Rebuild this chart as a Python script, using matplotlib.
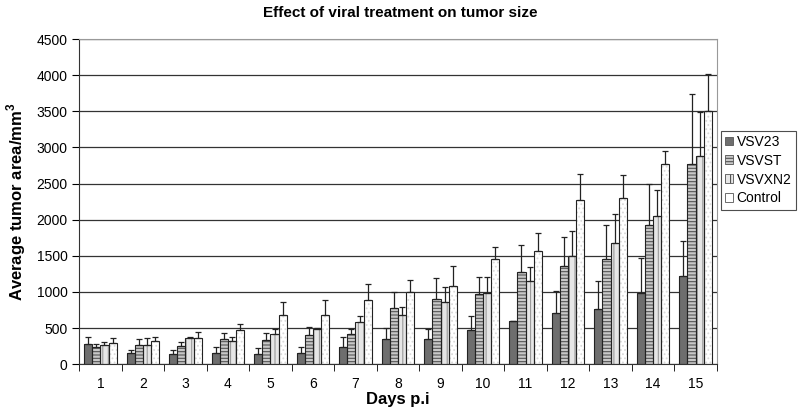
import numpy as np
import matplotlib.pyplot as plt
from matplotlib.patches import Patch

plt.rcParams['font.family'] = ['Liberation Sans', 'DejaVu Sans']
plt.rcParams['hatch.linewidth'] = 0.8

# tumor area (mean) and upper error per group, days 1..15
days = [str(d) for d in range(1, 16)]
groups = ['VSV23', 'VSVST', 'VSVXN2', 'Control']

vsv23 = [281, 152, 138, 152, 140, 152, 240, 350, 350, 476, 600, 701, 762, 991, 1225]
vsvst = [244, 267, 258, 346, 332, 410, 415, 784, 900, 977, 1281, 1359, 1460, 1925, 2777]
vsvxn2 = [263, 267, 360, 323, 424, 489, 581, 687, 867, 991, 1152, 1497, 1672, 2045, 2877]
control = [291, 318, 360, 471, 678, 687, 886, 997, 1080, 1456, 1566, 2266, 2293, 2767, 3498]

vsv23_top = [374, 202, 189, 235, 221, 235, 369, 507, 485, 665, 600, 1010, 1148, 1474, 1704]
vsvst_top = [285, 350, 305, 429, 429, 512, 493, 1001, 1195, 1208, 1649, 1755, 1921, 2491, 3737]
vsvxn2_top = [313, 360, 382, 382, 493, 500, 665, 789, 1061, 1208, 1341, 1842, 2073, 2408, 3484]
control_top = [360, 382, 443, 562, 862, 886, 1103, 1158, 1361, 1621, 1819, 2638, 2620, 2946, 4018]

means = [vsv23, vsvst, vsvxn2, control]
tops = [vsv23_top, vsvst_top, vsvxn2_top, control_top]

faces = ['#6e6e6e', '#c8c8c8', '#e6e6e6', '#ffffff']
hatches = ['', '-----', '|||', '....']
hatch_cols = ['#6e6e6e', '#555555', '#9a9a9a', '#dadada']

fig = plt.figure(figsize=(8, 4.2), dpi=100)
ax = fig.add_axes([0.099, 0.133, 0.797, 0.774])

x = np.arange(len(days))
w = 0.19
for i in range(4):
    pos = x + (i - 1.5) * w
    m = np.array(means[i])
    err = np.array(tops[i]) - m
    # fill with hatch, then dark outline on top
    ax.bar(pos, m, w, color=faces[i], hatch=hatches[i], edgecolor=hatch_cols[i],
           linewidth=0, zorder=2)
    ax.bar(pos, m, w, facecolor='none', edgecolor='#222222', linewidth=0.8, zorder=3)
    ax.errorbar(pos, m, yerr=[np.zeros_like(err), err], fmt='none', ecolor='#222222',
                elinewidth=0.9, capsize=2.5, capthick=0.9, zorder=4)

ax.set_xlim(-0.5, len(days) - 0.5)
ax.set_ylim(0, 4500)
ax.set_yticks(np.arange(0, 4501, 500))
ax.yaxis.grid(True, color='#333333', linewidth=0.9)
ax.set_axisbelow(True)

ax.set_xticks(x)
ax.set_xticklabels(days)
ax.set_xticks(np.arange(-0.5, len(days)), minor=True)
ax.tick_params(axis='x', which='major', length=0, pad=9, labelsize=10)
ax.tick_params(axis='x', which='minor', length=5, direction='out')
ax.tick_params(axis='y', length=5, labelsize=10)

for s in ['top', 'right']:
    ax.spines[s].set_color('#999999')
for s in ['left', 'bottom']:
    ax.spines[s].set_color('#333333')

ax.set_xlabel('Days p.i', fontsize=12, fontweight='bold', labelpad=1)
ax.set_ylabel('Average tumor area/mm$^\\mathregular{3}$', fontsize=12, fontweight='bold', labelpad=6)
fig.suptitle('Effect of viral treatment on tumor size', fontsize=11, fontweight='bold', y=0.985)

leg_hatch = ['', '-----', '|||', '']
handles = [Patch(facecolor=faces[i], hatch=leg_hatch[i], edgecolor='#555555', linewidth=0.6)
           for i in range(4)]
leg = ax.legend(handles, groups, loc='upper left', bbox_to_anchor=(1.006, 0.718),
                frameon=True, fancybox=False, fontsize=10, handlelength=0.6,
                handleheight=0.6, handletextpad=0.25, borderpad=0.3, labelspacing=0.35,
                borderaxespad=0)
leg.get_frame().set_edgecolor('#222222')
leg.get_frame().set_linewidth(0.8)

plt.savefig('out.png', dpi=100)
